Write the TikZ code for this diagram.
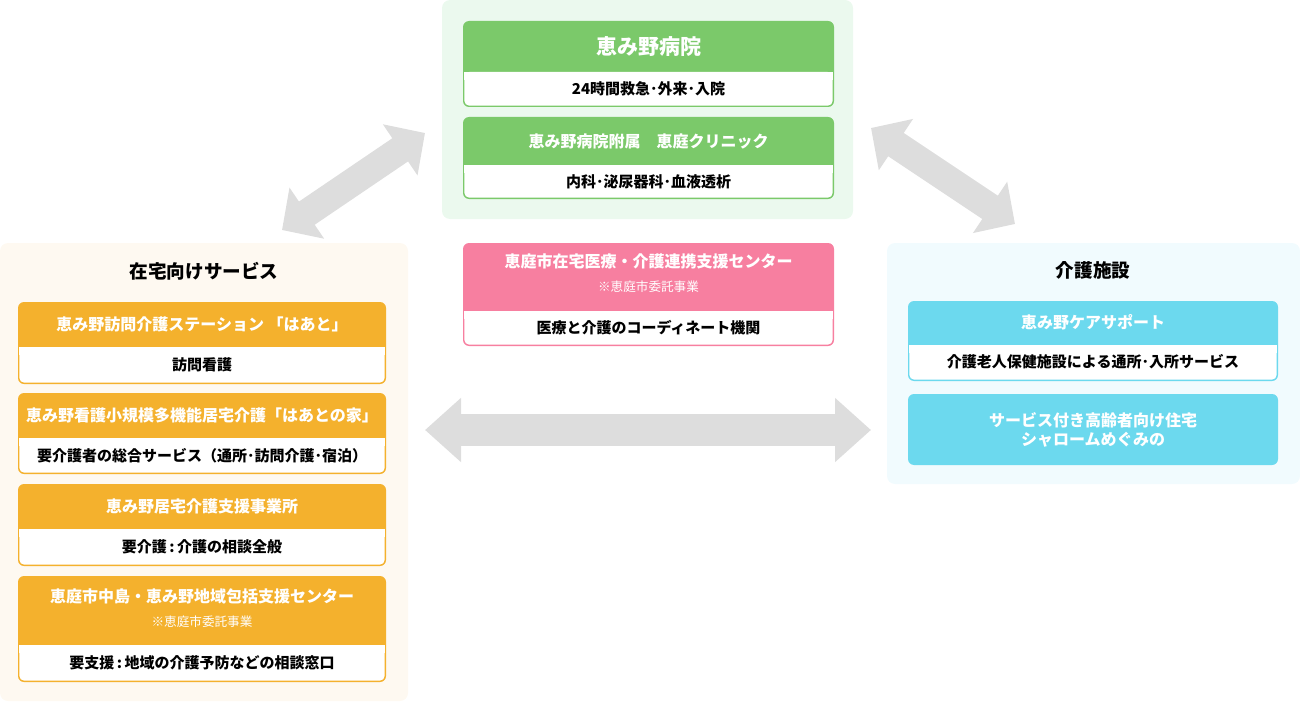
\documentclass[tikz,border=0pt]{standalone}
\usepackage{fontspec}
\setmainfont{Noto Sans CJK JP}
\usepackage{tikz}
\usetikzlibrary{arrows.meta, positioning}
\usepackage{xcolor}
\definecolor{greenhd}{RGB}{123, 201, 106}
\definecolor{greenbg}{RGB}{235, 249, 238}
\definecolor{orangehd}{RGB}{244, 177, 45}
\definecolor{orangebg}{RGB}{254, 249, 241}
\definecolor{pinkhd}{RGB}{247, 127, 160}
\definecolor{cyanhd}{RGB}{108, 217, 238}
\definecolor{bluebg}{RGB}{241, 251, 254}
\definecolor{arrowgray}{RGB}{221, 221, 221}

% card: colour, x1, y1, y of white part, x2, y2
\newcommand{\card}[6]{%
  \fill[#1, rounded corners=3pt] (#2,#3) rectangle (#5,#6);
  \fill[white, rounded corners=2.5pt] (#2+1.3,#4) rectangle (#5-1.3,#6-1.3);
  \fill[white] (#2+1.3,#4) rectangle (#5-1.3,#4+8);
}

\tikzset{
  head/.style={text=white, font=\bfseries\fontsize{8}{10}\selectfont},
  body/.style={text=black, font=\bfseries\fontsize{7.5}{9}\selectfont},
  note/.style={text=white, font=\fontsize{6.3}{8}\selectfont},
  ttl/.style={text=black, font=\bfseries\fontsize{9.3}{11}\selectfont},
  bigarrow/.style={draw=arrowgray, line width=16pt,
    {Triangle[length=18pt, width=31pt]}-{Triangle[length=18pt, width=31pt]}},
  diagarrow/.style={draw=arrowgray, line width=14pt,
    {Triangle[length=15pt, width=30pt]}-{Triangle[length=15pt, width=30pt]}},
}

\begin{document}
\begin{tikzpicture}[x=0.5pt, y=-0.5pt]
    \useasboundingbox (0,0) rectangle (1300,701);
    % panels
    \fill[greenbg, rounded corners=4pt] (442,0) rectangle (853,219);
    \fill[orangebg, rounded corners=4pt] (0,243) rectangle (408,701);
    \fill[bluebg, rounded corners=4pt] (887,243) rectangle (1300,484);

    % arrows
    \coordinate (hA) at (425,430);
    \coordinate (hB) at (871,430);
    \coordinate (lA) at (282,230);
    \coordinate (lB) at (425,133);
    \coordinate (rA) at (871,128);
    \coordinate (rB) at (1015,224);
    \draw[bigarrow] (hA) -- (hB);
    \draw[diagarrow] (lA) -- (lB);
    \draw[diagarrow] (rA) -- (rB);

    % hospital
    \card{greenhd}{463}{21}{72}{834}{107}
    \card{greenhd}{463}{117}{165}{834}{199}
    \node[head, font=\bfseries\fontsize{10.5}{12}\selectfont] (hosp) at (648.5,47) {恵み野病院};
    \node[body] (hospsub) at (648.5,89) {24時間救急･外来･入院};
    \node[head] (clinic) at (648.5,141) {恵み野病院附属　恵庭クリニック};
    \node[body] (clinicsub) at (648.5,182) {内科･泌尿器科･血液透析};

    % renkei center
    \card{pinkhd}{463}{243}{311}{834}{346}
    \node[head] (renkei) at (648.5,261) {恵庭市在宅医療・介護連携支援センター};
    \node[note] (renkeinote) at (648.5,287) {※恵庭市委託事業};
    \node[body] (renkeisub) at (648.5,328) {医療と介護のコーディネート機関};

    % home services
    \node[ttl] (home) at (204,271) {在宅向けサービス};
    \card{orangehd}{18}{302}{347}{386}{384}
    \card{orangehd}{18}{393}{438}{386}{474}
    \card{orangehd}{18}{484}{529}{386}{566}
    \card{orangehd}{18}{576}{645}{386}{682}
    \node[head] (houmon) at (202,324) {恵み野訪問介護ステーション 「はあと」};
    \node[body] (houmonsub) at (202,365) {訪問看護};
    \node[head] (kantaki) at (202,415) {恵み野看護小規模多機能居宅介護「はあとの家」};
    \node[body] (kantakisub) at (202,456) {要介護者の総合サービス（通所･訪問介護･宿泊）};
    \node[head] (kyotaku) at (202,506) {恵み野居宅介護支援事業所};
    \node[body] (kyotakusub) at (202,547) {要介護\,:\,介護の相談全般};
    \node[head] (houkatsu) at (202,596) {恵庭市中島・恵み野地域包括支援センター};
    \node[note] (houkatsunote) at (202,622) {※恵庭市委託事業};
    \node[body] (houkatsusub) at (202,663) {要支援\,:\,地域の介護予防などの相談窓口};

    % care facilities
    \node[ttl] (shisetsu) at (1093,270) {介護施設};
    \card{cyanhd}{908}{301}{345}{1278}{381}
    \fill[cyanhd, rounded corners=3pt] (908,394) rectangle (1278,465);
    \node[head] (caresupport) at (1093,322) {恵み野ケアサポート};
    \node[body] (caresupportsub) at (1093,362) {介護老人保健施設による通所･入所サービス};
    \node[head, align=center, font=\bfseries\fontsize{8}{9.5}\selectfont] (saju) at (1093,429.5)
        {サービス付き高齢者向け住宅\\シャロームめぐみの};
\end{tikzpicture}
\end{document}
